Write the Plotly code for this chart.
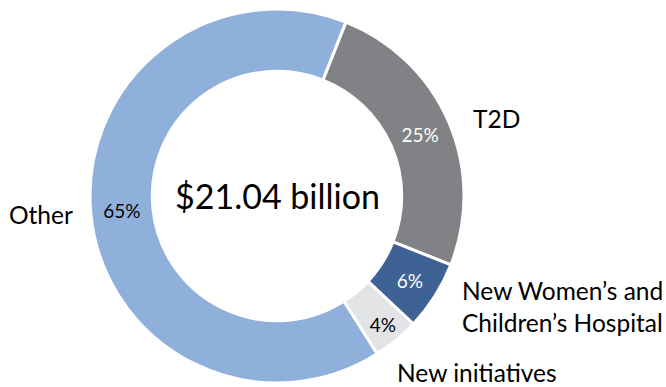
import plotly.graph_objects as go

# Share of total spend by program
categories = ["T2D", "New Women’s and Children’s Hospital", "New initiatives", "Other"]
shares = [25, 6, 4, 65]
outer_labels = ["T2D", "New Women’s and<br>Children’s Hospital", "New initiatives", "Other"]
total_label = "$21.04 billion"

colors = ["#808285", "#3E6294", "#E3E4E6", "#8FB0DB"]
pct_colors = ["white", "white", "black", "black"]

W, H = 666, 387
M_T, M_B = 9, 4
FONT = "Lato, 'Open Sans', sans-serif"

fig = go.Figure(
    go.Pie(
        labels=categories,
        values=shares,
        sort=False,
        direction="clockwise",
        rotation=21.6,
        hole=0.667,
        marker=dict(colors=colors, line=dict(color="white", width=3)),
        texttemplate="%{value}%",
        textposition="inside",
        insidetextorientation="horizontal",
        textfont=dict(family=FONT, size=19, color=pct_colors),
        hoverinfo="label+percent",
        showlegend=False,
        domain=dict(x=[(277 - 187) / W, (277 + 187) / W], y=[0, 1]),
    )
)


def px_to_paper(px, py):
    return px / W, (H - M_B - py) / (H - M_T - M_B)


# outside category names (pixel anchor, horizontal anchor)
label_spots = {
    "T2D": (471, 119, "left"),
    "New Women’s and<br>Children’s Hospital": (460, 306, "left"),
    "New initiatives": (395, 372, "left"),
    "Other": (7, 214, "left"),
}

annotations = []
for text in outer_labels:
    x, y, anchor = label_spots[text]
    xp, yp = px_to_paper(x, y)
    annotations.append(
        dict(
            text=text, x=xp, y=yp, xref="paper", yref="paper",
            xanchor=anchor, yanchor="middle", align="left", showarrow=False,
            font=dict(family=FONT, size=24.5, color="black"),
        )
    )

cx, cy = px_to_paper(277, 195)
annotations.append(
    dict(
        text=total_label, x=cx, y=cy, xref="paper", yref="paper",
        xanchor="center", yanchor="middle", showarrow=False,
        font=dict(family=FONT, size=34, color="black"),
    )
)

fig.update_layout(
    width=W,
    height=H,
    margin=dict(l=0, r=0, t=M_T, b=M_B),
    paper_bgcolor="white",
    plot_bgcolor="white",
    annotations=annotations,
)

fig.write_html("out.html")
